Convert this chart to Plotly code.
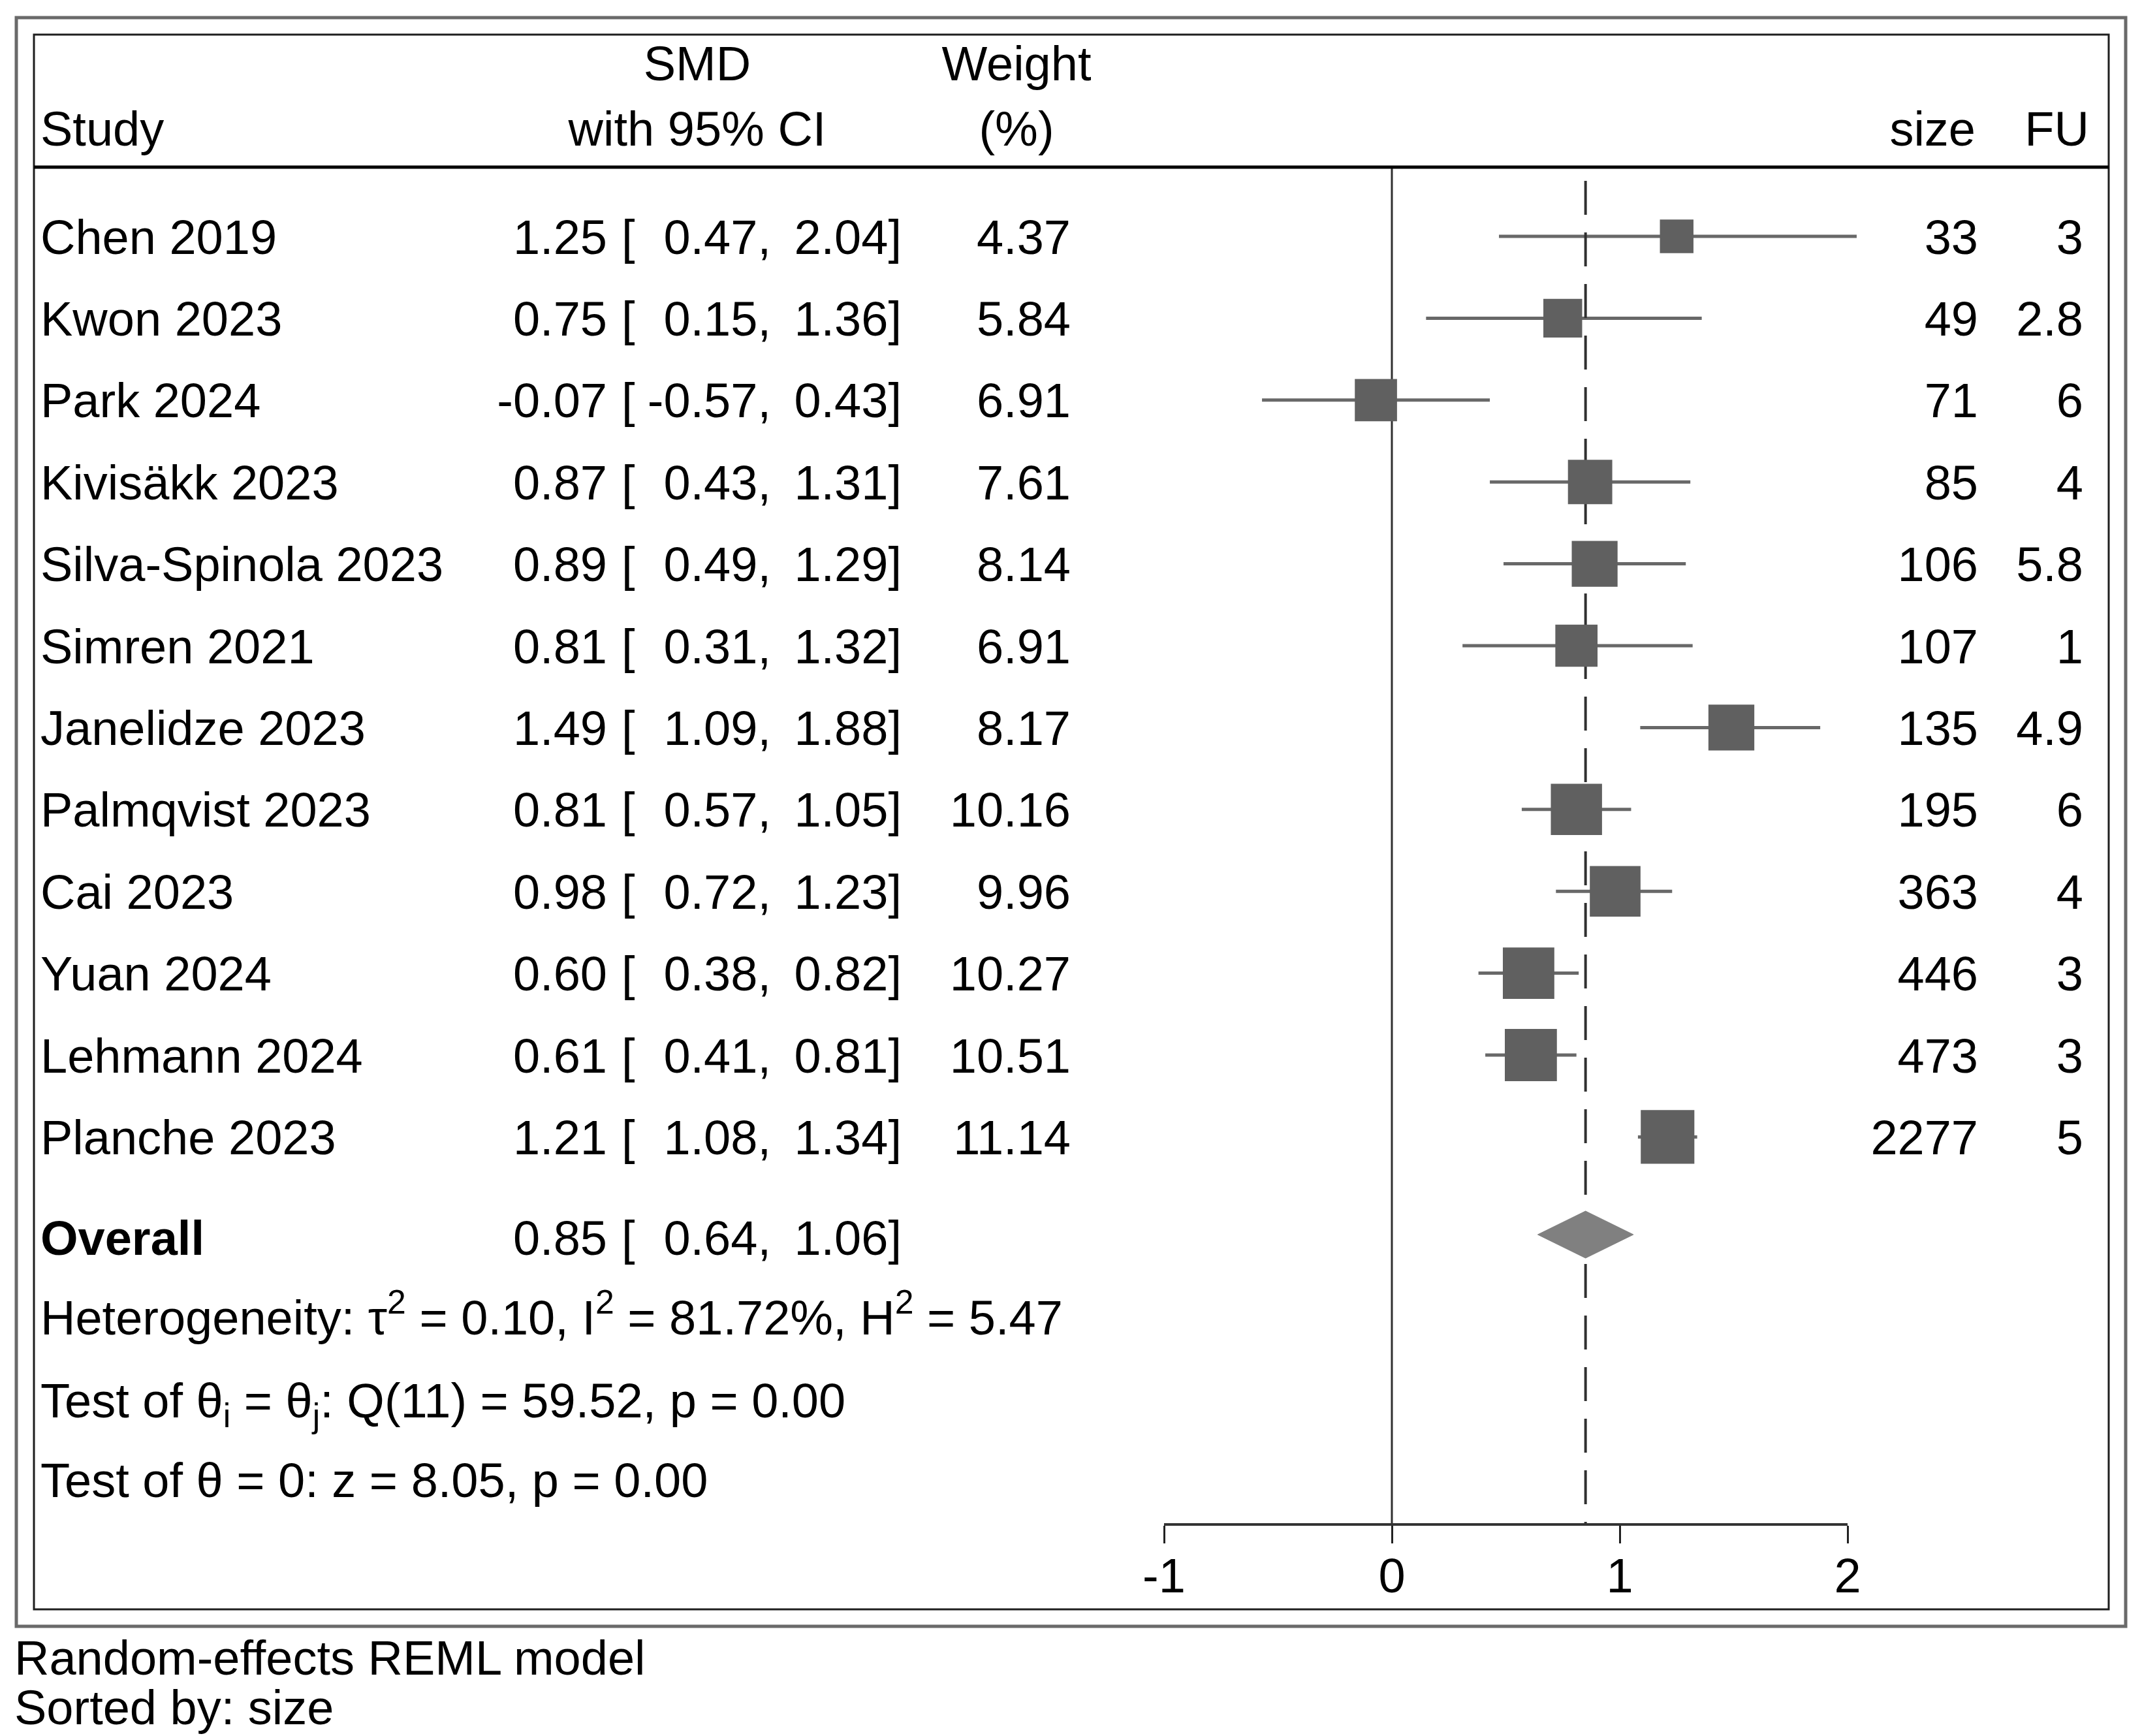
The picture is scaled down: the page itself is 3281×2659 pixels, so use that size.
import plotly.graph_objects as go

# ---------------- data ----------------
studies = ["Chen 2019", "Kwon 2023", "Park 2024", "Kivisäkk 2023", "Silva-Spinola 2023",
           "Simren 2021", "Janelidze 2023", "Palmqvist 2023", "Cai 2023", "Yuan 2024",
           "Lehmann 2024", "Planche 2023"]
smd = [1.25, 0.75, -0.07, 0.87, 0.89, 0.81, 1.49, 0.81, 0.98, 0.60, 0.61, 1.21]
ci_low = [0.47, 0.15, -0.57, 0.43, 0.49, 0.31, 1.09, 0.57, 0.72, 0.38, 0.41, 1.08]
ci_high = [2.04, 1.36, 0.43, 1.31, 1.29, 1.32, 1.88, 1.05, 1.23, 0.82, 0.81, 1.34]
weight = [4.37, 5.84, 6.91, 7.61, 8.14, 6.91, 8.17, 10.16, 9.96, 10.27, 10.51, 11.14]
size = [33, 49, 71, 85, 106, 107, 135, 195, 363, 446, 473, 2277]
fu = ["3", "2.8", "6", "4", "5.8", "1", "4.9", "6", "4", "3", "3", "5"]

overall = 0.85
overall_low = 0.64
overall_high = 1.06

xticks = [-1, 0, 1, 2]

stats_lines = [
    "Heterogeneity: τ<sup>2</sup> = 0.10, I<sup>2</sup> = 81.72%, H<sup>2</sup> = 5.47",
    "Test of θ<sub>i</sub> = θ<sub>j</sub>: Q(11) = 59.52, p = 0.00",
    "Test of θ = 0: z = 8.05, p = 0.00",
]
notes = ["Random-effects REML model", "Sorted by: size"]

# ---------------- layout geometry (screen pixels) ----------------
W, H = 3281, 2659
OFF = 8                         # page offset of the figure
Y0, ROW = 362.0, 125.4          # screen pixel of first study row, row pitch
X0, UNIT = 2132.0, 349.0        # screen pixel of SMD=0, pixels per SMD unit
FS = 74
TXT_DY = 8                      # plotly draws 'middle' text ~8px above its anchor at this size
TXT_DX = 3                      # horizontal text offset from its anchor
FONT = "Arial, Liberation Sans, sans-serif"
BLACK = "#000000"


def prow(p):
    """screen pixel -> row units"""
    return (p - Y0) / ROW


def pcol(p):
    """screen pixel -> SMD units on the main x axis"""
    return (p - X0) / UNIT


def px(p):
    return (p - OFF) / W


def py(p):
    return 1 - (p - OFF) / H


rows = list(range(len(studies)))
fig = go.Figure()

# CI lines
cx, cy = [], []
for i, (lo, hi) in enumerate(zip(ci_low, ci_high)):
    cx += [lo, hi, None]
    cy += [i, i, None]
fig.add_trace(go.Scatter(x=cx, y=cy, mode="lines", line=dict(color="#686868", width=5),
                         hoverinfo="skip", showlegend=False))

# zero line & overall dashed line
fig.add_trace(go.Scatter(x=[0, 0], y=[prow(256), prow(2333)], mode="lines",
                         line=dict(color="#303030", width=3), hoverinfo="skip", showlegend=False))
fig.add_trace(go.Scatter(x=[overall, overall], y=[prow(277), prow(2333)], mode="lines",
                         line=dict(color="#303030", width=4, dash="52px,27px"),
                         hoverinfo="skip", showlegend=False))

# squares (area ~ weight)
fig.add_trace(go.Scatter(x=smd, y=rows, mode="markers",
                         marker=dict(symbol="square", color="#606060", opacity=1,
                                     size=[24.6 * w ** 0.5 for w in weight], line=dict(width=0)),
                         showlegend=False))

# overall diamond
ov_row = prow(1891)
dh = 36 / ROW
fig.add_trace(go.Scatter(x=[overall_low, overall, overall_high, overall, overall_low],
                         y=[ov_row, ov_row - dh, ov_row, ov_row + dh, ov_row],
                         mode="lines", fill="toself", fillcolor="#808080",
                         line=dict(color="#808080", width=1), hoverinfo="skip", showlegend=False))


# ---------------- text columns ----------------
def text_col(xpx, ypx, texts, pos, bold=False):
    if "right" in pos:
        xa = xpx - TXT_DX
    elif "left" in pos:
        xa = xpx + TXT_DX
    else:
        xa = xpx
    fig.add_trace(go.Scatter(
        x=[pcol(xa)] * len(ypx), y=[prow(p + TXT_DY) for p in ypx], text=texts,
        mode="text", textposition=pos,
        textfont=dict(family=FONT, size=FS, color=BLACK,
                      weight="bold" if bold else "normal"),
        hoverinfo="skip", showlegend=False, cliponaxis=False))


row_px = [Y0 + r * ROW for r in rows]
fmt = lambda v: f"{v:.2f}"
text_col(65, row_px, studies, "middle right")
text_col(927, row_px, [fmt(v) for v in smd], "middle left")
text_col(955, row_px, ["["] * len(rows), "middle right")
text_col(1178, row_px, [fmt(v) + "," for v in ci_low], "middle left")
text_col(1378, row_px, [fmt(v) + "]" for v in ci_high], "middle left")
text_col(1637, row_px, [fmt(v) for v in weight], "middle left")
text_col(3027, row_px, [str(v) for v in size], "middle left")
text_col(3188, row_px, fu, "middle left")

# header
text_col(65, [196], ["Study"], "middle right")
text_col(1068, [96, 196], ["SMD", "with 95% CI"], "middle center")
text_col(1557, [96, 196], ["Weight", "(%)"], "middle center")
text_col(3023, [196], ["size"], "middle left")
text_col(3197, [196], ["FU"], "middle left")

# overall row
OV_PX = 1895
text_col(65, [OV_PX], ["Overall"], "middle right", bold=True)
text_col(927, [OV_PX], [fmt(overall)], "middle left")
text_col(955, [OV_PX], ["["], "middle right")
text_col(1178, [OV_PX], [fmt(overall_low) + ","], "middle left")
text_col(1378, [OV_PX], [fmt(overall_high) + "]"], "middle left")

# stats
text_col(65, [2017, 2144, 2266], stats_lines, "middle right")
# notes
text_col(25, [2538, 2614], notes, "middle right")

# ---------------- frames (paper coords) ----------------
shapes = [
    dict(type="rect", xref="paper", yref="paper", x0=px(25), x1=px(3256), y0=py(27), y1=py(2491),
         line=dict(color="#6a6a6a", width=5), layer="below"),
    dict(type="rect", xref="paper", yref="paper", x0=px(52), x1=px(3230), y0=py(53), y1=py(2465),
         line=dict(color="#1e1e1e", width=3), layer="below"),
    dict(type="line", xref="paper", yref="paper", x0=px(52), x1=px(3230), y0=py(256), y1=py(256),
         line=dict(color="#000000", width=5)),
]

# tick axis (plotly axis for SMD ticks)
fig.add_trace(go.Scatter(x=[None], y=[None], xaxis="x3", yaxis="y3", showlegend=False))

fig.update_layout(
    width=W, height=H, autosize=False,
    margin=dict(l=0, r=0, t=0, b=0, pad=0, autoexpand=False),
    paper_bgcolor="white", plot_bgcolor="rgba(0,0,0,0)",
    showlegend=False,
    xaxis=dict(domain=[0, 1], range=[pcol(OFF), pcol(OFF + W)], visible=False,
               fixedrange=True, automargin=False),
    yaxis=dict(domain=[0, 1], range=[prow(OFF + H), prow(OFF)], visible=False,
               fixedrange=True, automargin=False),
    xaxis3=dict(domain=[px(X0 - UNIT), px(X0 + 2 * UNIT)], range=[-1, 2], anchor="y3",
                showline=True, linecolor="#333333", linewidth=4, mirror=False,
                ticks="outside", ticklen=27, tickwidth=3, tickcolor="#222222",
                tickvals=xticks, ticktext=[str(t) for t in xticks],
                tickfont=dict(family=FONT, size=FS, color=BLACK), ticklabelstandoff=-14,
                showgrid=False, zeroline=False, fixedrange=True, automargin=False),
    yaxis3=dict(domain=[py(2333), 1], range=[0, 1], anchor="x3", visible=False, automargin=False),
    shapes=shapes,
)

fig.write_html("out.html")
